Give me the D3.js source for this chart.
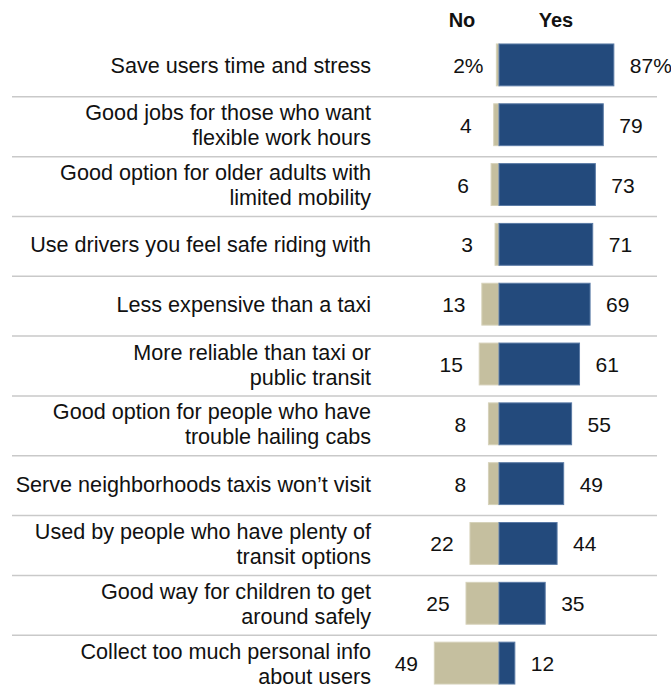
<!DOCTYPE html>
<html>
<head>
<meta charset="utf-8">
<script src="https://cdn.jsdelivr.net/npm/d3@7"></script>
<style>
  body { margin: 0; background: #fff; }
  text { font-family: "Liberation Sans", Arial, sans-serif; fill: #111; }
</style>
</head>
<body>
<div id="chart"></div>
<script>
var svgWidth = 671;
var svgHeight = 693;

// chart data
var labels = [
  ["Save users time and stress"],
  ["Good jobs for those who want", "flexible work hours"],
  ["Good option for older adults with", "limited mobility"],
  ["Use drivers you feel safe riding with"],
  ["Less expensive than a taxi"],
  ["More reliable than taxi or", "public transit"],
  ["Good option for people who have", "trouble hailing cabs"],
  ["Serve neighborhoods taxis won\u2019t visit"],
  ["Used by people who have plenty of", "transit options"],
  ["Good way for children to get", "around safely"],
  ["Collect too much personal info", "about users"]
];
var noValues = [2, 4, 6, 3, 13, 15, 8, 8, 22, 25, 49];
var yesValues = [87, 79, 73, 71, 69, 61, 55, 49, 44, 35, 12];

var rows = labels.map(function(l, i) {
  return { id: i, label: l, no: noValues[i], yes: yesValues[i] };
});

var svg = d3.select("#chart")
  .append("svg")
  .attr("width", svgWidth)
  .attr("height", svgHeight);

// center line of the diverging bars sits at x = 499
var x = d3.scaleLinear()
  .domain([-100, 100])
  .range([499 - 132, 499 + 132]);

var y = d3.scaleBand()
  .domain(rows.map(d => d.id))
  .range([35, 693])
  .paddingInner(0.3)
  .paddingOuter(0.15);

var bw = y.bandwidth();

// separator lines between rows
svg.append("g")
  .selectAll("line")
  .data(rows.slice(0, rows.length - 1))
  .enter()
  .append("line")
  .attr("x1", 12)
  .attr("x2", 657)
  .attr("y1", d => y(d.id) + bw + 11)
  .attr("y2", d => y(d.id) + bw + 11)
  .attr("stroke", "#c9c9c9")
  .attr("stroke-width", 1.5);

// headers
svg.append("text")
  .attr("x", 462)
  .attr("y", 27)
  .attr("text-anchor", "middle")
  .style("font-size", "20px")
  .style("font-weight", "bold")
  .text("No");

svg.append("text")
  .attr("x", 556)
  .attr("y", 27)
  .attr("text-anchor", "middle")
  .style("font-size", "20px")
  .style("font-weight", "bold")
  .text("Yes");

var rowGroup = svg.append("g")
  .selectAll("g")
  .data(rows)
  .enter()
  .append("g");

// no bars
rowGroup.append("rect")
  .attr("x", d => x(-d.no))
  .attr("y", d => y(d.id))
  .attr("width", d => x(0) - x(-d.no))
  .attr("height", bw)
  .attr("fill", "#c5bf9f")
  .attr("stroke", "#d6d2ba")
  .attr("stroke-width", 1);

// yes bars
rowGroup.append("rect")
  .attr("x", x(0))
  .attr("y", d => y(d.id))
  .attr("width", d => x(d.yes) - x(0))
  .attr("height", bw)
  .attr("fill", "#234a7c")
  .attr("stroke", "#5a7aa5")
  .attr("stroke-width", 1);

// category labels
rowGroup.append("text")
  .attr("text-anchor", "end")
  .style("font-size", "21.6px")
  .each(function(d) {
    var t = d3.select(this);
    var cy = y(d.id) + bw / 2;
    var n = d.label.length;
    d.label.forEach(function(line, j) {
      t.append("tspan")
        .attr("x", 371)
        .attr("y", cy + 8 + (j - (n - 1) / 2) * 25)
        .text(line);
    });
  });

// no values
rowGroup.append("text")
  .attr("x", d => x(-d.no) - 28)
  .attr("y", d => y(d.id) + bw / 2 + 8)
  .attr("text-anchor", "middle")
  .style("font-size", "21px")
  .text((d, i) => i === 0 ? d.no + "%" : d.no);

// yes values
rowGroup.append("text")
  .attr("x", d => x(d.yes) + 16)
  .attr("y", d => y(d.id) + bw / 2 + 8)
  .style("font-size", "21px")
  .text((d, i) => i === 0 ? d.yes + "%" : d.yes);
</script>
</body>
</html>
